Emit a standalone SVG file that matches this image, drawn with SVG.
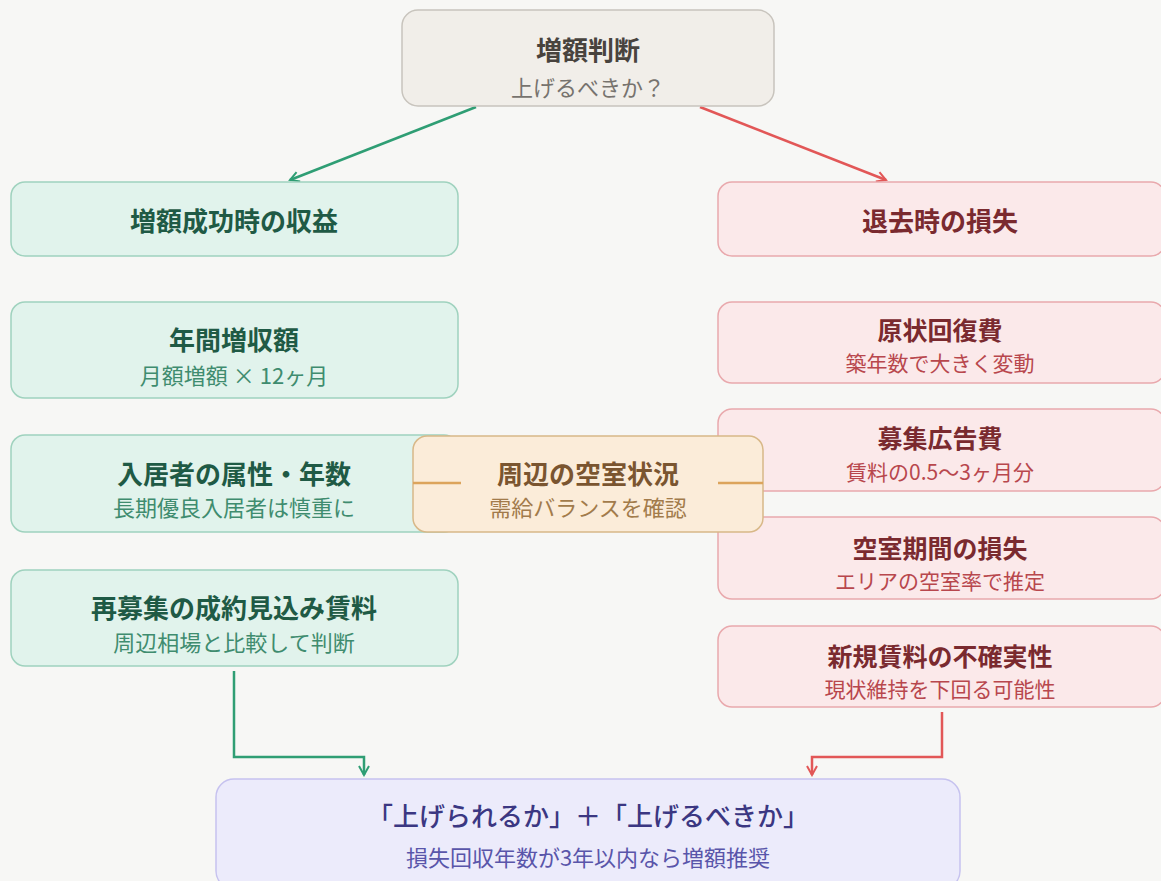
<svg xmlns="http://www.w3.org/2000/svg" width="1161" height="881" viewBox="0 0 1161 881">
<style>
text{font-family:"Noto Sans CJK JP","Noto Sans",sans-serif;text-anchor:middle;dominant-baseline:central}
.t{font-size:26px;font-weight:700}
.s{font-size:22px}
.r .t{font-size:25px}
.r .s{font-size:21px}
.g rect{fill:#e1f3ec;stroke:#9fd2be;stroke-width:1.5}
.g .t{fill:#1f5a45}.g .s{fill:#3f8c6f}
.r rect{fill:#fbe9ea;stroke:#e9a9ad;stroke-width:1.5}
.r .t{fill:#7a2a2f}.r .s{fill:#b8474d}
.e{fill:none;stroke-width:2.5}
</style>
<defs>
<marker id="ag" viewBox="0 0 12 12" refX="10" refY="6" markerWidth="12" markerHeight="12" markerUnits="userSpaceOnUse" orient="auto"><path d="M1 1L10 6L1 11" fill="none" stroke="#2f9e74" stroke-width="2"/></marker>
<marker id="ar" viewBox="0 0 12 12" refX="10" refY="6" markerWidth="12" markerHeight="12" markerUnits="userSpaceOnUse" orient="auto"><path d="M1 1L10 6L1 11" fill="none" stroke="#e25757" stroke-width="2"/></marker>
</defs>
<rect width="1161" height="881" fill="#f7f7f5"/>
<g id="connectors">
<path class="e" d="M476 107L290 180" stroke="#2f9e74" marker-end="url(#ag)"/>
<path class="e" d="M700 107L886 180" stroke="#e25757" marker-end="url(#ar)"/>
<path class="e" d="M234 671V757H364V775" stroke="#2f9e74" marker-end="url(#ag)"/>
<path class="e" d="M942 712V757H812V775" stroke="#e25757" marker-end="url(#ar)"/>
</g>
<g id="top">
<rect x="402" y="10" width="372" height="96" rx="16" fill="#f1eee9" stroke="#c8c4bd" stroke-width="1.5"/>
<text class="t" x="588" y="48" fill="#48433e">増額判断</text>
<text class="s" x="588" y="86" fill="#77736e">上げるべきか？</text>
</g>
<g id="gain" class="g">
<rect x="11" y="182" width="447" height="74" rx="14"/>
<text class="t" x="234" y="219">増額成功時の収益</text>
</g>
<g id="annual" class="g">
<rect x="11" y="302" width="447" height="96" rx="14"/>
<text class="t" x="234" y="338">年間増収額</text>
<text class="s" x="234" y="374">月額増額 × 12ヶ月</text>
</g>
<g id="tenant" class="g">
<rect x="11" y="435" width="447" height="97" rx="14"/>
<text class="t" x="234" y="472">入居者の属性・年数</text>
<text class="s" x="234" y="506">長期優良入居者は慎重に</text>
</g>
<g id="newrent" class="g">
<rect x="11" y="570" width="447" height="96" rx="14"/>
<text class="t" x="234" y="606">再募集の成約見込み賃料</text>
<text class="s" x="234" y="641">周辺相場と比較して判断</text>
</g>
<g id="loss" class="r">
<rect x="718" y="182" width="447" height="74" rx="14"/>
<text class="t" x="940" y="219" style="font-size:26px">退去時の損失</text>
</g>
<g id="restore" class="r">
<rect x="718" y="302" width="447" height="81" rx="14"/>
<text class="t" x="940" y="329">原状回復費</text>
<text class="s" x="940" y="362">築年数で大きく変動</text>
</g>
<g id="ad" class="r">
<rect x="718" y="409" width="447" height="82" rx="14"/>
<text class="t" x="940" y="437">募集広告費</text>
<text class="s" x="940" y="471">賃料の0.5〜3ヶ月分</text>
</g>
<g id="vacancy" class="r">
<rect x="718" y="517" width="447" height="82" rx="14"/>
<text class="t" x="940" y="547">空室期間の損失</text>
<text class="s" x="940" y="580">エリアの空室率で推定</text>
</g>
<g id="uncertain" class="r">
<rect x="718" y="626" width="447" height="81" rx="14"/>
<text class="t" x="940" y="655">新規賃料の不確実性</text>
<text class="s" x="940" y="688">現状維持を下回る可能性</text>
</g>
<g id="area">
<rect x="413" y="436" width="350" height="96" rx="14" fill="#fbecd9" stroke="#d8b888" stroke-width="1.5"/>
<path d="M413 483H461M718 483H763" stroke="#dca45c" stroke-width="2.5"/>
<text class="t" x="588" y="472" fill="#7a5530">周辺の空室状況</text>
<text class="s" x="588" y="506" fill="#a27b4b">需給バランスを確認</text>
</g>
<g id="result">
<rect x="216" y="779" width="744" height="110" rx="18" fill="#ecebfb" stroke="#c6c2ef" stroke-width="1.5"/>
<text class="t" x="588" y="814" fill="#3b3782" style="font-weight:500">「上げられるか」＋「上げるべきか」</text>
<text class="s" x="588" y="856" fill="#5955aa">損失回収年数が3年以内なら増額推奨</text>
</g>
</svg>
